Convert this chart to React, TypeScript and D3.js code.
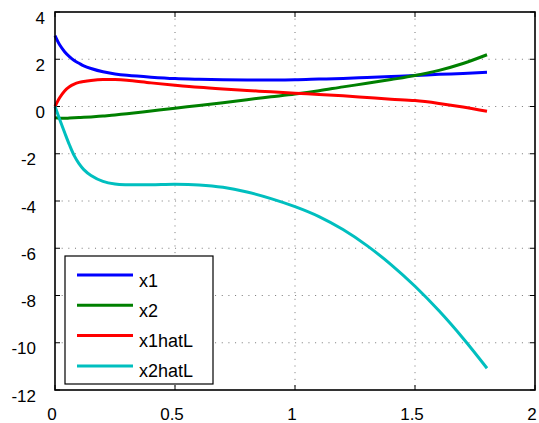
import React from "react";
import * as d3 from "d3";

const T = [0, 0.02, 0.04, 0.06, 0.08, 0.1, 0.12, 0.15, 0.2, 0.25, 0.3, 0.4, 0.5, 0.6, 0.7, 0.8, 0.9, 1.0, 1.1, 1.2, 1.3, 1.4, 1.5, 1.6, 1.7, 1.8];
const x1 = [3.0, 2.6, 2.32, 2.11, 1.95, 1.83, 1.72, 1.61, 1.47, 1.38, 1.32, 1.24, 1.18, 1.15, 1.13, 1.12, 1.12, 1.13, 1.16, 1.19, 1.23, 1.27, 1.31, 1.36, 1.4, 1.45];
const x2 = [-0.48, -0.5, -0.5, -0.49, -0.48, -0.47, -0.46, -0.44, -0.4, -0.36, -0.31, -0.19, -0.07, 0.04, 0.16, 0.29, 0.41, 0.53, 0.67, 0.83, 0.98, 1.14, 1.31, 1.53, 1.82, 2.19];
const x1hatL = [0, 0.38, 0.66, 0.84, 0.95, 1.02, 1.06, 1.1, 1.14, 1.14, 1.11, 1.0, 0.9, 0.81, 0.74, 0.68, 0.62, 0.56, 0.51, 0.45, 0.38, 0.31, 0.25, 0.13, -0.02, -0.2];
const x2hatL = [0, -0.56, -1.1, -1.62, -2.08, -2.42, -2.67, -2.92, -3.17, -3.28, -3.31, -3.31, -3.29, -3.32, -3.42, -3.62, -3.9, -4.24, -4.66, -5.21, -5.89, -6.69, -7.61, -8.65, -9.81, -11.08];

const seriesNames = ["x1", "x2", "x1hatL", "x2hatL"];
const seriesValues = [x1, x2, x1hatL, x2hatL];
const seriesColors = ["#0000ff", "#008000", "#ff0000", "#00bfbf"];

const xTicks = [0, 0.5, 1, 1.5, 2];
const yTicks = [4, 2, 0, -2, -4, -6, -8, -10, -12];

const W = 539;
const H = 423;
const M = { left: 55, right: 535, top: 12, bottom: 390 };
const FONT = "'Liberation Sans', Arial, Helvetica, sans-serif";

export default function App() {
  const xs = d3.scaleLinear().domain([0, 2]).range([M.left, M.right]);
  const ys = d3.scaleLinear().domain([-12, 4]).range([M.bottom, M.top]);
  const line = d3
    .line<[number, number]>()
    .x((d) => xs(d[0]))
    .y((d) => ys(d[1]))
    .curve(d3.curveCatmullRom.alpha(0.5));

  const legX0 = 65, legY0 = 256, legX1 = 213, legY1 = 384;
  const rowY = (i: number) => 275 + i * 30.3;

  return (
    <svg
      width={W}
      height={H}
      style={{ position: "absolute", left: 0, top: 0, background: "#fff" }}
      fontFamily={FONT}
    >
      <rect x={0} y={0} width={W} height={H} fill="#fff" />
      {/* grid */}
      {xTicks.slice(1, -1).map((t) => (
        <line key={"gx" + t} x1={xs(t)} x2={xs(t)} y1={M.top} y2={M.bottom}
          stroke="#777" strokeWidth={1} strokeDasharray="1 5.67" />
      ))}
      {yTicks.slice(1, -1).map((t) => (
        <line key={"gy" + t} x1={M.left} x2={M.right} y1={ys(t)} y2={ys(t)}
          stroke="#777" strokeWidth={1} strokeDasharray="1 5.67" />
      ))}
      {/* ticks */}
      {xTicks.map((t) => (
        <g key={"tx" + t}>
          <line x1={xs(t)} x2={xs(t)} y1={M.bottom} y2={M.bottom - 5} stroke="#000" strokeWidth={1} />
          <line x1={xs(t)} x2={xs(t)} y1={M.top} y2={M.top + 5} stroke="#000" strokeWidth={1} />
          <text x={xs(t) - 3} y={420} fontSize={17} textAnchor="middle" fill="#000">{t}</text>
        </g>
      ))}
      {yTicks.map((t) => (
        <g key={"ty" + t}>
          <line x1={M.left} x2={M.left + 5} y1={ys(t)} y2={ys(t)} stroke="#000" strokeWidth={1} />
          <line x1={M.right} x2={M.right - 5} y1={ys(t)} y2={ys(t)} stroke="#000" strokeWidth={1} />
          <text x={t >= 0 ? 45 : 36} y={ys(t) + 11.5} fontSize={17} textAnchor="end" fill="#000">{t}</text>
        </g>
      ))}
      {/* series */}
      {seriesValues.map((vals, i) => (
        <path key={seriesNames[i]}
          d={line(T.map((t, j) => [t, vals[j]] as [number, number])) || ""}
          fill="none" stroke={seriesColors[i]} strokeWidth={3} strokeLinejoin="round" />
      ))}
      {/* axes box */}
      <rect x={M.left} y={M.top} width={M.right - M.left} height={M.bottom - M.top}
        fill="none" stroke="#000" strokeWidth={1.6} />
      {/* legend */}
      <rect x={legX0} y={legY0} width={legX1 - legX0} height={legY1 - legY0}
        fill="#fff" stroke="#000" strokeWidth={1.2} />
      {seriesNames.map((n, i) => (
        <g key={"leg" + n}>
          <line x1={77} x2={133} y1={rowY(i)} y2={rowY(i)} stroke={seriesColors[i]} strokeWidth={3} />
          <text x={139} y={rowY(i) + 11.5} fontSize={18} fill="#000">{n}</text>
        </g>
      ))}
    </svg>
  );
}
